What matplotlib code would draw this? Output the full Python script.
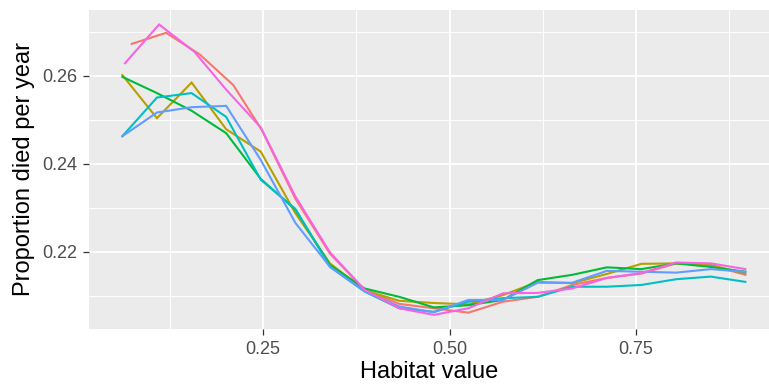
import matplotlib
matplotlib.use("Agg")
import matplotlib.pyplot as plt
from matplotlib.ticker import MultipleLocator

plt.rcParams['font.family'] = ['Liberation Sans', 'DejaVu Sans']

# habitat bins shared by most runs
habitat = [0.0614, 0.1078, 0.1542, 0.2005, 0.2469, 0.2933, 0.3397, 0.3861, 0.4324, 0.4788,
           0.5252, 0.5716, 0.6180, 0.6643, 0.7107, 0.7571, 0.8035, 0.8499, 0.8963]
# first bins of runs 1 and 6 sit a little off the shared grid
habitat_r1 = [0.0740, 0.1200, 0.1650, 0.2102, 0.2483] + habitat[5:]
habitat_r6 = [0.0650, 0.1106, 0.1579, 0.2005, 0.2469] + habitat[5:]

run1 = [0.2672, 0.2697, 0.2648, 0.2578, 0.2476, 0.2320, 0.2195, 0.2113, 0.2081, 0.2071,
        0.2061, 0.2086, 0.2097, 0.2124, 0.2140, 0.2150, 0.2173, 0.2169, 0.2147]
run2 = [0.2601, 0.2503, 0.2584, 0.2478, 0.2427, 0.2287, 0.2173, 0.2112, 0.2088, 0.2083,
        0.2080, 0.2101, 0.2131, 0.2128, 0.2149, 0.2172, 0.2173, 0.2169, 0.2150]
run3 = [0.2597, 0.2560, 0.2520, 0.2469, 0.2365, 0.2295, 0.2169, 0.2116, 0.2097, 0.2073,
        0.2078, 0.2090, 0.2135, 0.2147, 0.2164, 0.2160, 0.2173, 0.2165, 0.2154]
run4 = [0.2462, 0.2550, 0.2560, 0.2506, 0.2363, 0.2297, 0.2165, 0.2109, 0.2071, 0.2063,
        0.2086, 0.2094, 0.2097, 0.2120, 0.2120, 0.2124, 0.2137, 0.2143, 0.2131]
run5 = [0.2462, 0.2516, 0.2528, 0.2531, 0.2408, 0.2265, 0.2165, 0.2110, 0.2075, 0.2062,
        0.2090, 0.2090, 0.2129, 0.2129, 0.2156, 0.2154, 0.2152, 0.2160, 0.2154]
run6 = [0.2628, 0.2716, 0.2654, 0.2568, 0.2482, 0.2325, 0.2198, 0.2113, 0.2071, 0.2056,
        0.2071, 0.2105, 0.2106, 0.2116, 0.2140, 0.2151, 0.2175, 0.2173, 0.2160]

runs = [(habitat_r1, run1), (habitat, run2), (habitat, run3),
        (habitat, run4), (habitat, run5), (habitat_r6, run6)]
colours = ['#F8766D', '#B79F00', '#00BA38', '#00BFC4', '#619CFF', '#F564E3']

fig = plt.figure(figsize=(7.69, 3.88), dpi=100)
ax = fig.add_axes([89 / 769, 1 - 329 / 388, 1 - 89 / 769, 319 / 388])
ax.set_facecolor('#EBEBEB')

for (xs, ys), c in zip(runs, colours):
    ax.plot(xs, ys, color=c, lw=1.5, solid_joinstyle='miter', zorder=3)

ax.set_xlim(0.0167, 0.928)
ax.set_ylim(0.20239, 0.27489)
ax.xaxis.set_major_locator(MultipleLocator(0.25))
ax.xaxis.set_minor_locator(MultipleLocator(0.125))
ax.yaxis.set_major_locator(MultipleLocator(0.02))
ax.yaxis.set_minor_locator(MultipleLocator(0.01))
ax.xaxis.set_major_formatter(lambda v, p: f'{v:.2f}')
ax.yaxis.set_major_formatter(lambda v, p: f'{v:.2f}')

ax.grid(which='major', color='white', lw=1.3, zorder=0)
ax.grid(which='minor', color='white', lw=0.7, zorder=0)
ax.set_axisbelow(True)
for s in ax.spines.values():
    s.set_visible(False)

ax.tick_params(which='major', length=4, width=0.9, color='#333333',
               labelcolor='#4D4D4D', labelsize=13, pad=4.5)
ax.tick_params(which='minor', length=0)

ax.set_xlabel('Habitat value', fontsize=17, color='black', labelpad=2)
ax.set_ylabel('Proportion died per year', fontsize=17, color='black', labelpad=5)

fig.savefig('out.png', dpi=100)
